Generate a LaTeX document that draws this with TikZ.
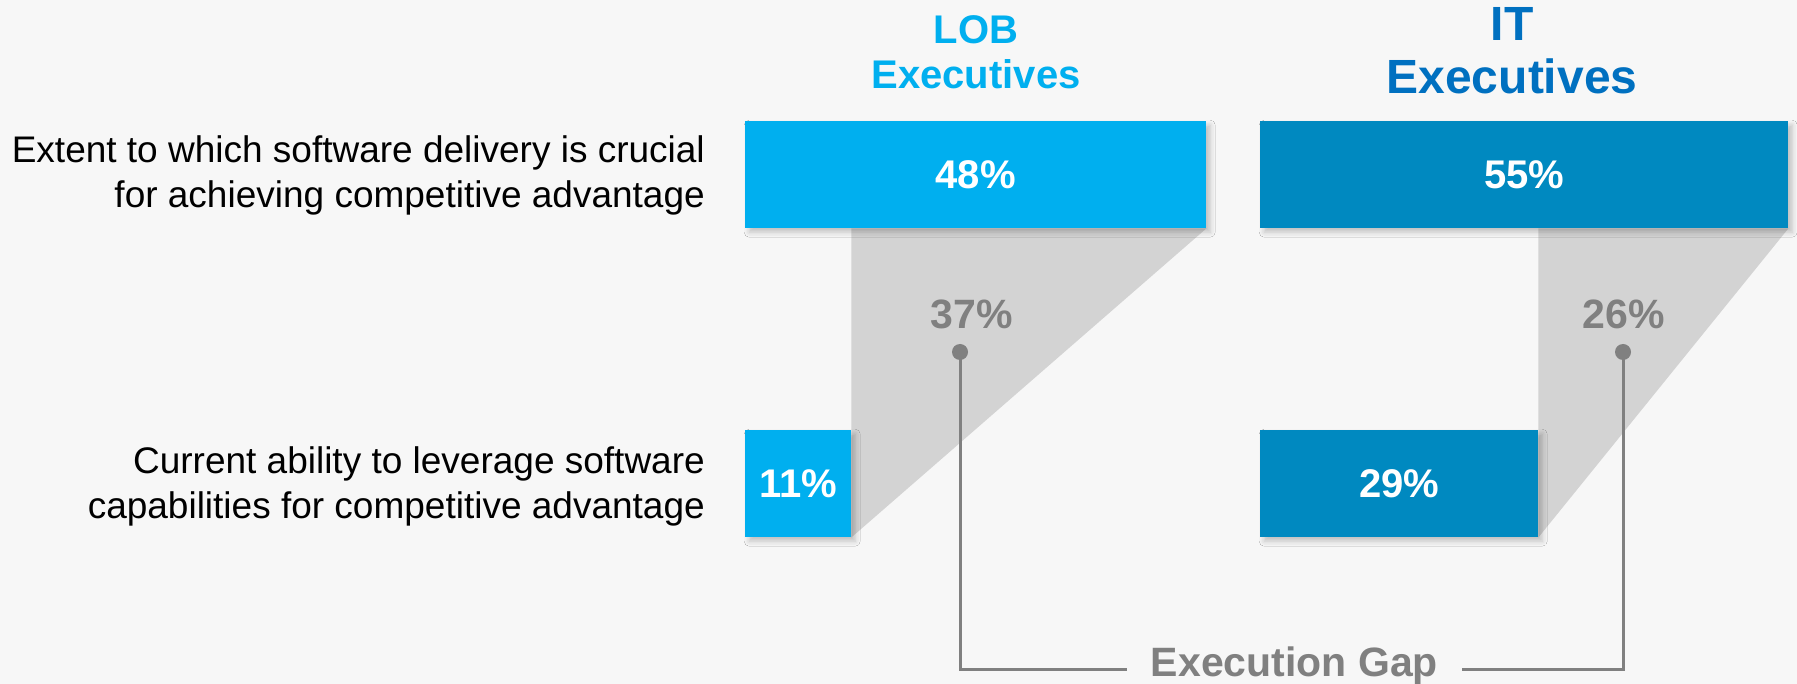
\documentclass[tikz,border=0pt]{standalone}
\usepackage{fontspec}
\setmainfont{Liberation Sans}
\usetikzlibrary{shadows.blur}

\definecolor{lobblue}{RGB}{0,175,239}
\definecolor{itblue}{RGB}{0,137,192}
\definecolor{itheadblue}{RGB}{0,112,192}
\definecolor{gapgray}{RGB}{211,211,211}
\definecolor{textgray}{RGB}{128,128,128}
\definecolor{pagebg}{RGB}{247,247,247}

\pgfdeclarelayer{bg}
\pgfsetlayers{bg,main}

\tikzset{
  bar/.style={anchor=north west, inner sep=0pt, text=white,
    font=\fontsize{40}{48}\selectfont\bfseries,
    blur shadow={shadow xshift=4pt, shadow yshift=-4pt, shadow blur radius=5pt, shadow opacity=22}},
  lobbar/.style={bar, fill=lobblue},
  itbar/.style={bar, fill=itblue},
  rowlabel/.style={anchor=east, align=right, inner sep=0pt, font=\fontsize{37}{45}\selectfont},
  head/.style={align=center, inner sep=0pt},
  gaplabel/.style={text=textgray, inner sep=0pt, font=\fontsize{41}{48}\selectfont\bfseries},
  gapline/.style={draw=textgray, line width=3pt},
  gapdot/.style={circle, fill=textgray, minimum size=16pt, inner sep=0pt}
}

\begin{document}
\begin{tikzpicture}[x=1pt, y=-1pt]
  \useasboundingbox (0,0) rectangle (1797,684);

  % column heads
  \node[head, text=lobblue, font=\fontsize{40}{45}\selectfont\bfseries] (lobhead) at (976,52.5) {LOB\\Executives};
  \node[head, text=itheadblue, font=\fontsize{48}{53}\selectfont\bfseries] (ithead) at (1512,51) {IT\\Executives};

  % row labels
  \node[rowlabel] (rowtop) at (705,175.5) {Extent to which software delivery is crucial\\for achieving competitive advantage};
  \node[rowlabel] (rowbot) at (705,486.5) {Current ability to leverage software\\capabilities for competitive advantage};

  % bars
  \node[lobbar, minimum width=461pt, minimum height=107pt] (lobtop) at (745,121) {48\%};
  \node[lobbar, minimum width=106pt, minimum height=107pt] (lobbot) at (745,430) {11\%};
  \node[itbar, minimum width=528pt, minimum height=107pt] (ittop) at (1260,121) {55\%};
  \node[itbar, minimum width=278pt, minimum height=107pt] (itbot) at (1260,430) {29\%};

  % gaps
  \node[gaplabel] (lobgap) at (972,314.5) {37\%};
  \node[gaplabel] (itgap) at (1624,314.5) {26\%};
  \node[gapdot] (lobdot) at (960,352) {};
  \node[gapdot] (itdot) at (1623,352) {};
  \node[gaplabel, anchor=base, text height=29pt, text depth=15pt, inner xsep=24pt] (gap) at (1294.5,676) {Execution Gap};
  \draw[gapline] (lobdot.center) |- (gap.west);
  \draw[gapline] (gap.east) -| (itdot.center);

  \begin{pgfonlayer}{bg}
    \fill[pagebg] (0,0) rectangle (1797,684);
    \fill[gapgray] (lobbot.north east |- lobtop.south) -- (lobtop.south east) -- (lobbot.south east) -- cycle;
    \fill[gapgray] (itbot.north east |- ittop.south) -- (ittop.south east) -- (itbot.south east) -- cycle;
  \end{pgfonlayer}
\end{tikzpicture}
\end{document}
